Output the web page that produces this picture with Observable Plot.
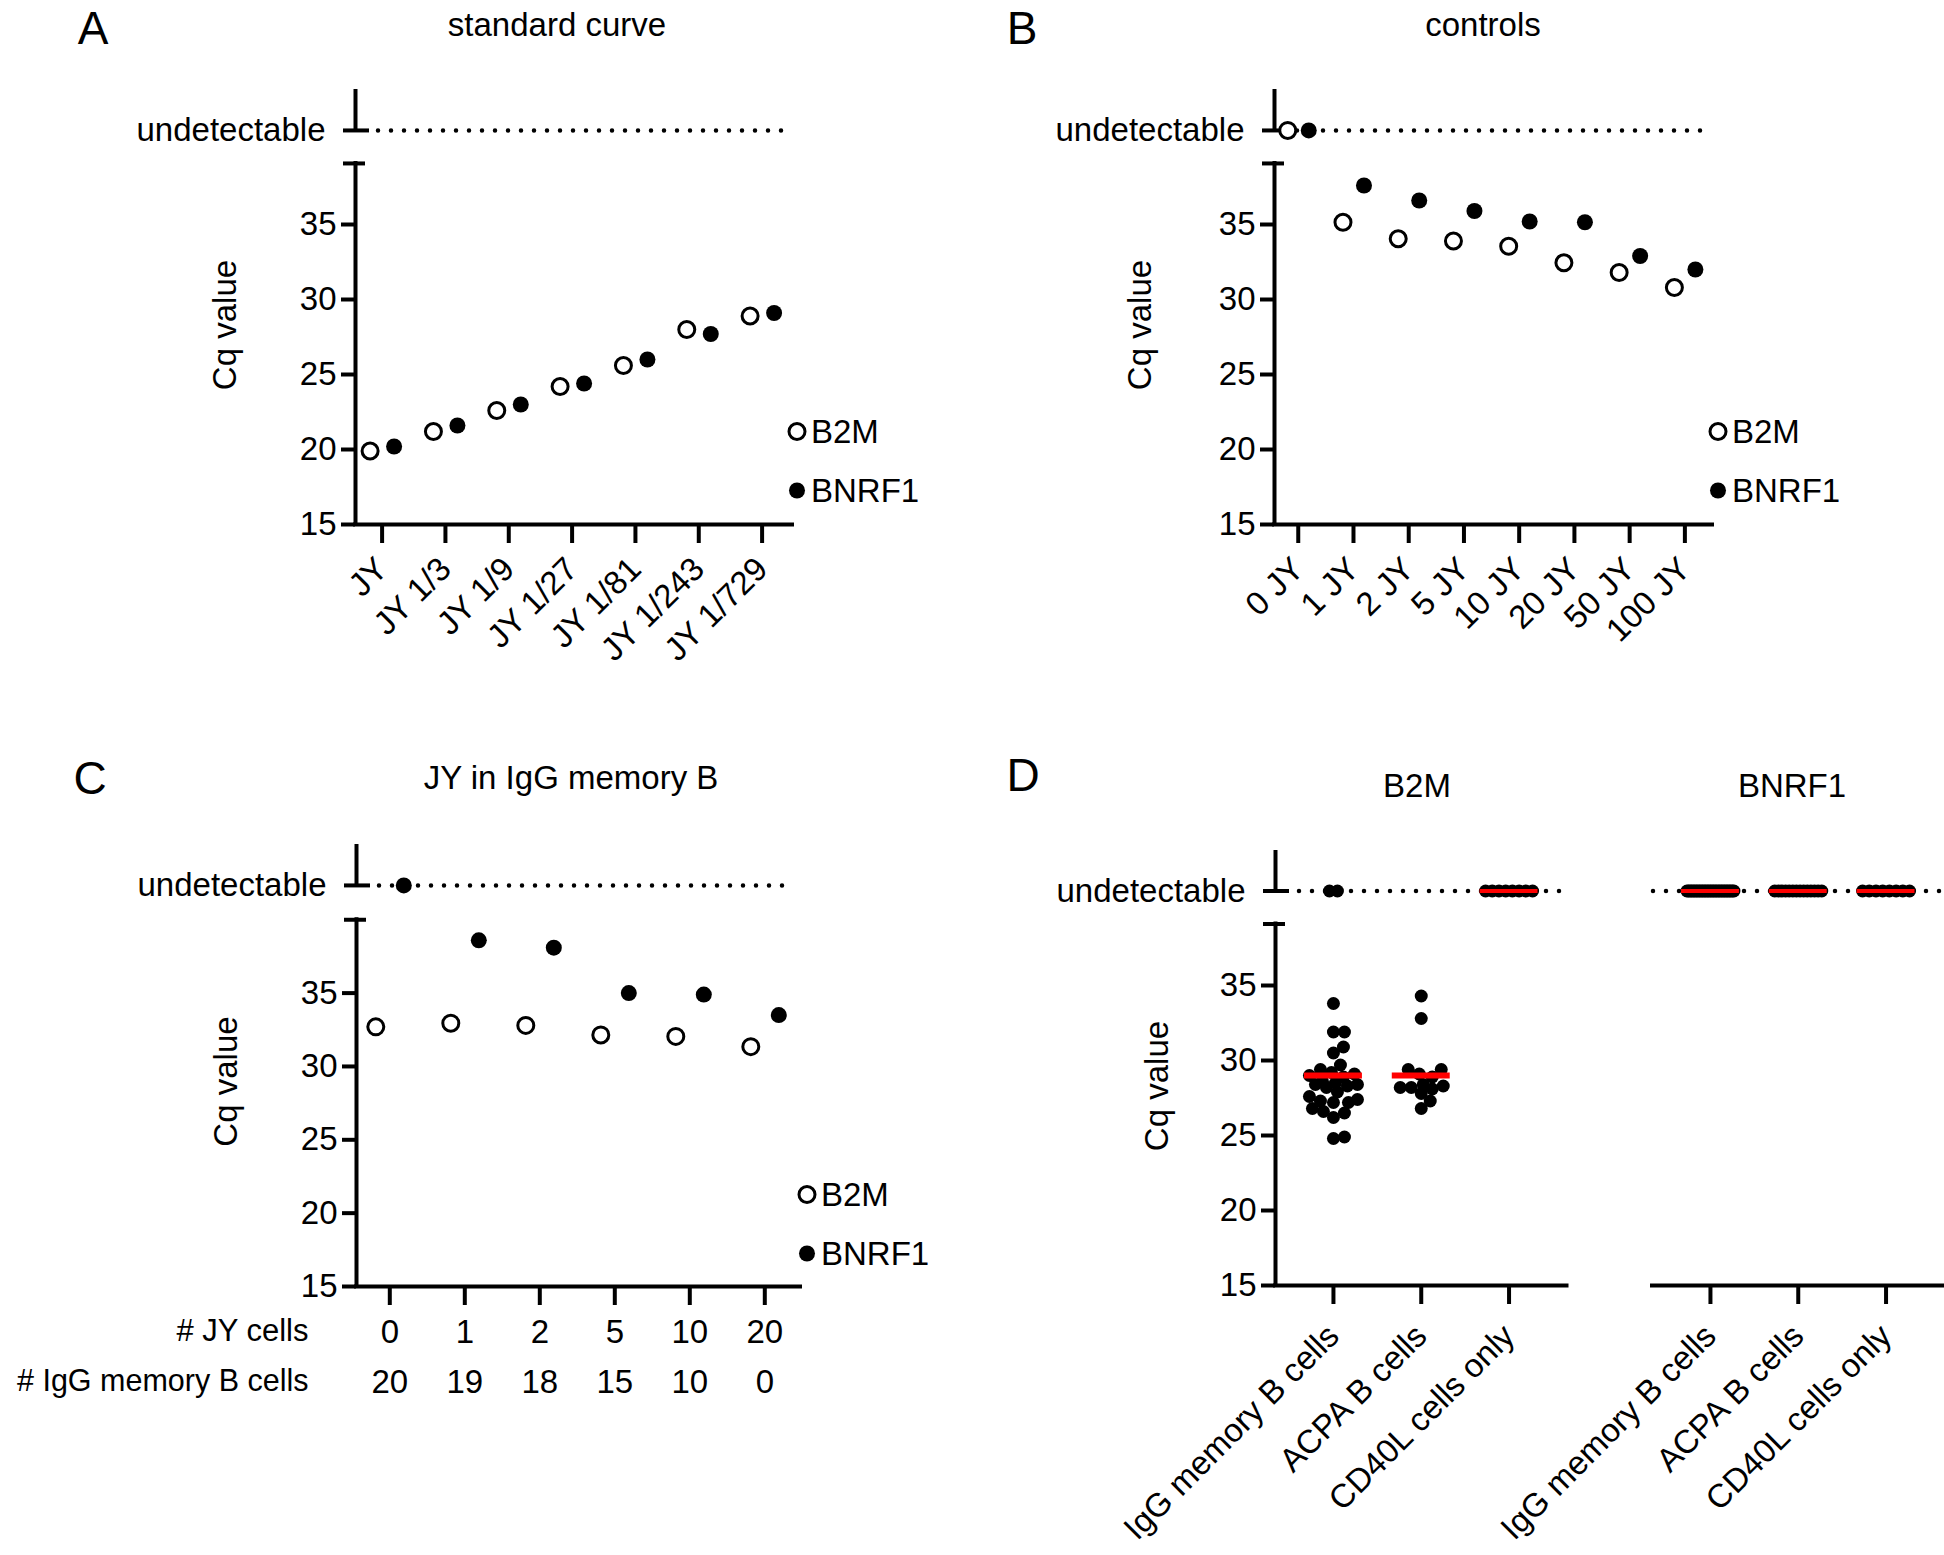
<!DOCTYPE html>
<html><head><meta charset="utf-8">
<script src="https://cdn.jsdelivr.net/npm/d3@7"></script>
<script src="https://cdn.jsdelivr.net/npm/@observablehq/plot@0.6"></script>
<style>
body{margin:0;background:#fff;}
#fig{position:relative;width:1944px;height:1555px;overflow:hidden;background:#fff;font-family:"Liberation Sans",Arial,Helvetica,sans-serif;color:#000;}
.t{position:absolute;transform:translate(-50%,-50%);font-size:33px;white-space:nowrap;line-height:1.15;}
.letter{font-size:46px;}
.leg{position:absolute;display:flex;align-items:center;font-size:33px;line-height:1;transform:translateY(-50%);white-space:nowrap;}
.leg svg{margin-right:4px;}
</style></head><body><div id="fig"></div>
<script>
const FONT = '"Liberation Sans", Arial, Helvetica, sans-serif';
const FS = 33;

// ---------- Panel A: standard curve ----------
const aLabels = ["JY", "JY 1/3", "JY 1/9", "JY 1/27", "JY 1/81", "JY 1/243", "JY 1/729"];
const aB2M   = [19.9, 21.2, 22.6, 24.2, 25.6, 28.0, 28.9];
const aBNRF1 = [20.2, 21.6, 23.0, 24.4, 26.0, 27.7, 29.1];

// ---------- Panel B: controls (null = undetectable) ----------
const bLabels = ["0 JY", "1 JY", "2 JY", "5 JY", "10 JY", "20 JY", "50 JY", "100 JY"];
const bB2M   = [null, 35.15, 34.05, 33.9, 33.55, 32.45, 31.8, 30.8];
const bBNRF1 = [null, 37.6, 36.6, 35.9, 35.2, 35.15, 32.9, 32.0];

// ---------- Panel C: JY in IgG memory B ----------
const cJYcells  = ["0", "1", "2", "5", "10", "20"];
const cIgGcells = ["20", "19", "18", "15", "10", "0"];
const cB2M   = [32.7, 32.95, 32.8, 32.15, 32.05, 31.35];
const cBNRF1 = [null, 38.6, 38.1, 35.0, 34.9, 33.5];

// ---------- Panel D ----------
const dGroups = ["IgG memory B cells", "ACPA B cells", "CD40L cells only"];
const dB2M_IgG = [33.8, 31.9, 31.9, 30.9, 30.5, 29.7, 29.4, 29.2, 29.1, 29.0, 28.9, 28.6, 28.5, 28.4, 28.4,
                  28.3, 28.2, 27.9, 27.6, 27.4, 27.3, 27.2, 27.2, 26.8, 26.6, 26.5, 26.2, 24.9, 24.8, null, null];
const dB2M_ACPA = [34.3, 32.8, 29.4, 29.4, 29.1, 28.9, 28.4, 28.3, 28.2, 28.2, 28.1, 27.8, 27.3, 26.8];
const dB2M_CD40L = [null, null, null, null, null, null, null, null];
const dBNRF1_IgG = [null, null, null, null, null, null, null, null, null, null, null, null, null, null, null, null,
                    null, null, null, null, null, null, null, null, null, null, null, null, null, null, null];
const dBNRF1_ACPA = [null, null, null, null, null, null, null, null, null, null, null, null, null, null];
const dBNRF1_CD40L = [null, null, null, null, null, null, null, null];
const dMedianB2M = [29.0, 29.0, null];
const dMedianBNRF1 = [null, null, null];

const fig = document.getElementById("fig");
function place(el, left, top) {
  el.style.position = "absolute"; el.style.left = left + "px"; el.style.top = top + "px";
  fig.appendChild(el);
}
function text(str, cx, cy, cls) {
  const d = document.createElement("div");
  d.className = "t " + (cls || ""); d.textContent = str;
  d.style.left = cx + "px"; d.style.top = cy + "px";
  fig.appendChild(d);
}
function legend(cx, cy, label, open) {
  const d = document.createElement("div");
  d.className = "leg";
  d.innerHTML = `<svg width="20" height="20"><circle cx="10" cy="10" r="8" fill="${open ? "white" : "black"}" stroke="black" stroke-width="${open ? 3 : 0}"/></svg><span>${label}</span>`;
  d.style.left = (cx - 10) + "px"; d.style.top = cy + "px";
  fig.appendChild(d);
}

const style = {background: "transparent", overflow: "visible", fontFamily: FONT, fontSize: FS + "px", color: "black"};

function brokenY({x0, lowTop, undet, yTop, W}) {
  return [
    Plot.ruleX([x0], {x: d => d, y1: () => 15, y2: () => lowTop, strokeWidth: 4, strokeLinecap: "square"}),
    Plot.ruleX([x0], {x: d => d, y1: () => undet, y2: () => yTop, strokeWidth: 4}),
    Plot.ruleY([lowTop], {y: d => d, dx: -12, insetRight: W - 22, strokeWidth: 4}),
    Plot.ruleY([undet], {y: d => d, insetRight: W - 14, strokeWidth: 4}),
    Plot.axisY({ticks: [15, 20, 25, 30, 35], tickSize: 14, tickPadding: 5, strokeWidth: 4, label: null, fontSize: FS}),
    Plot.axisY({ticks: [undet], tickFormat: () => "undetectable", tickSize: 12, tickPadding: 18, strokeWidth: 4, label: null, fontSize: FS})
  ];
}
function dotted(undet, insetLeft, insetRight) {
  return Plot.ruleY([undet], {y: d => d, insetLeft, insetRight, strokeWidth: 4.5, strokeDasharray: "0,13", strokeLinecap: "round"});
}
function pairDots(b2m, bnrf1, undet, off) {
  const open = b2m.map((v, i) => ({i, v: v === null ? undet : v}));
  const fill = bnrf1.map((v, i) => ({i, v: v === null ? undet : v}));
  return [
    Plot.dot(open, {x: "i", y: "v", r: 8, fill: "white", stroke: "black", strokeWidth: 3, dx: -off}),
    Plot.dot(fill, {x: "i", y: "v", r: 8, fill: "black", dx: off})
  ];
}
function cqLabel(dx, dy) {
  return Plot.text(["Cq value"], {text: d => d, frameAnchor: "left", textAnchor: "middle", lineAnchor: "middle", rotate: -90, dx, dy, fontSize: FS});
}
function rotatedX(labels) {
  return Plot.axisX({ticks: labels.map((_, i) => i), tickFormat: i => labels[i], tickSize: 19, tickPadding: 20, tickRotate: -45, strokeWidth: 4, label: null, fontSize: FS});
}

// ---------- Panel A ----------
{
  const W = 437, undet = 41.27, lowTop = 39.07, yTop = 44, xd = [-0.42, 6.48];
  const p = Plot.plot({
    width: 972, height: 700, marginLeft: 355, marginRight: 180, marginTop: 89, marginBottom: 176,
    x: {type: "linear", domain: xd, axis: null}, y: {type: "linear", domain: [15, yTop], axis: null},
    style,
    marks: [
      ...brokenY({x0: xd[0], lowTop, undet, yTop, W}),
      dotted(undet, 23, 5),
      Plot.ruleY([15], {y: d => d, strokeWidth: 4, strokeLinecap: "square"}),
      rotatedX(aLabels),
      cqLabel(-130, 18),
      ...pairDots(aB2M, aBNRF1, undet, 12)
    ]
  });
  place(p, 0, 0);
  legend(797, 431, "B2M", true);
  legend(797, 490, "BNRF1", false);
  text("A", 93, 28, "letter");
  text("standard curve", 557, 25);
}

// ---------- Panel B ----------
{
  const W = 438, undet = 41.27, lowTop = 39.07, yTop = 44, xd = [-0.43, 7.5];
  const p = Plot.plot({
    width: 972, height: 700, marginLeft: 302, marginRight: 232, marginTop: 89, marginBottom: 176,
    x: {type: "linear", domain: xd, axis: null}, y: {type: "linear", domain: [15, yTop], axis: null},
    style,
    marks: [
      ...brokenY({x0: xd[0], lowTop, undet, yTop, W}),
      dotted(undet, 23, 5),
      Plot.ruleY([15], {y: d => d, strokeWidth: 4, strokeLinecap: "square"}),
      rotatedX(bLabels),
      cqLabel(-134, 18),
      ...pairDots(bB2M, bBNRF1, undet, 10.5)
    ]
  });
  place(p, 972, 0);
  legend(1718, 431, "B2M", true);
  legend(1718, 490, "BNRF1", false);
  text("B", 1022, 28, "letter");
  text("controls", 1483, 25);
}

// ---------- Panel C ----------
{
  const W = 444, undet = 42.34, lowTop = 40.0, yTop = 45.13, xd = [-0.444, 5.476];
  const p = Plot.plot({
    width: 972, height: 795, marginLeft: 356, marginRight: 172, marginTop: 84, marginBottom: 269,
    x: {type: "linear", domain: xd, axis: null}, y: {type: "linear", domain: [15, yTop], axis: null},
    style,
    marks: [
      ...brokenY({x0: xd[0], lowTop, undet, yTop, W}),
      dotted(undet, 23, 5),
      Plot.ruleY([15], {y: d => d, strokeWidth: 4, strokeLinecap: "square"}),
      Plot.axisX({ticks: cJYcells.map((_, i) => i), tickFormat: i => cJYcells[i], tickSize: 19, tickPadding: 14, strokeWidth: 4, label: null, fontSize: FS}),
      Plot.axisX({ticks: cIgGcells.map((_, i) => i), tickFormat: i => cIgGcells[i], tickSize: 0, tickPadding: 83, strokeWidth: 0, label: null, fontSize: FS}),
      Plot.text(["# JY cells"], {text: d => d, frameAnchor: "bottom-left", textAnchor: "end", lineAnchor: "middle", dx: -48, dy: 45, fontSize: 31}),
      Plot.text(["# IgG memory B cells"], {text: d => d, frameAnchor: "bottom-left", textAnchor: "end", lineAnchor: "middle", dx: -48, dy: 95, fontSize: 30.5}),
      cqLabel(-130, 16),
      ...pairDots(cB2M, cBNRF1, undet, 14)
    ]
  });
  place(p, 0, 760);
  legend(807, 1194, "B2M", true);
  legend(807, 1253, "BNRF1", false);
  text("C", 90, 778, "letter");
  text("JY in IgG memory B", 571, 778);
}

// ---------- Panel D ----------
const PXX = 87.8, PXY = 15;
function swarmOffsets(values) {
  const off = values.map(() => 0);
  const nulls = [];
  values.forEach((v, i) => { if (v === null) nulls.push(i); });
  const n = nulls.length;
  if (n > 1) {
    const sp = Math.min(8, 47 / (n - 1));
    nulls.forEach((idx, j) => { off[idx] = (j - (n - 1) / 2) * sp; });
  }
  const order = values.map((v, i) => i).filter(i => values[i] !== null).sort((a, b) => values[a] - values[b]);
  const placed = [];
  for (const i of order) {
    const y = values[i] * PXY;
    let chosen = null, bestD = -1, bestC = 0;
    for (let k = 0; k <= 48; k++) {
      const c = (k % 2 === 1 ? 1 : -1) * Math.ceil(k / 2);
      let minD = Infinity;
      for (const q of placed) { const dd = Math.hypot(q.x - c, q.y - y); if (dd < minD) minD = dd; }
      if (minD >= 11) { chosen = c; break; }
      if (minD > bestD) { bestD = minD; bestC = c; }
    }
    if (chosen === null) chosen = bestC;
    off[i] = chosen; placed.push({x: chosen, y});
  }
  return off;
}
function dPoints(sets, undet) {
  return sets.flatMap((vals, g) => {
    const off = swarmOffsets(vals);
    return vals.map((v, j) => ({x: g + off[j] / PXX, y: v === null ? undet : v}));
  });
}
function dPanel(sets, medians, undet, lowTop, yTop, withAxis, W) {
  const xd = [-0.66, 2.66];
  const med = medians.map((m, g) => ({g, y: m === null ? undet : m, und: m === null}));
  const marks = [];
  if (withAxis) {
    marks.push(...brokenY({x0: xd[0], lowTop, undet, yTop, W}));
    marks.push(dotted(undet, 24, 5));
    marks.push(cqLabel(-118, 18));
  } else {
    marks.push(dotted(undet, 1, 0));
  }
  marks.push(
    Plot.ruleY([15], {y: d => d, strokeWidth: 4, strokeLinecap: "square"}),
    Plot.axisX({ticks: dGroups.map((_, i) => i), tickFormat: i => dGroups[i], tickSize: 19, tickPadding: 26, tickRotate: -45, strokeWidth: 4, label: null, fontSize: FS}),
    Plot.dot(dPoints(sets, undet), {x: "x", y: "y", r: 6.5, fill: "black"}),
    Plot.ruleY(med.filter(d => !d.und), {y: "y", x1: d => d.g - 0.33, x2: d => d.g + 0.33, stroke: "#ff0000", strokeWidth: 6}),
    Plot.ruleY(med.filter(d => d.und), {y: "y", x1: d => d.g - 0.33, x2: d => d.g + 0.33, stroke: "#ff0000", strokeWidth: 4})
  );
  return marks;
}
{
  const undet = 41.3, lowTop = 39.1, yTop = 44;
  const left = Plot.plot({
    width: 600, height: 795, marginLeft: 303, marginRight: 5.5, marginTop: 90, marginBottom: 270,
    x: {type: "linear", domain: [-0.66, 2.66], axis: null}, y: {type: "linear", domain: [15, yTop], axis: null},
    style,
    marks: dPanel([dB2M_IgG, dB2M_ACPA, dB2M_CD40L], dMedianB2M, undet, lowTop, yTop, true, 291.5)
  });
  const right = Plot.plot({
    width: 494, height: 795, marginLeft: 202, marginRight: 0.5, marginTop: 90, marginBottom: 270,
    x: {type: "linear", domain: [-0.66, 2.66], axis: null}, y: {type: "linear", domain: [15, yTop], axis: null},
    style,
    marks: dPanel([dBNRF1_IgG, dBNRF1_ACPA, dBNRF1_CD40L], dMedianBNRF1, undet, lowTop, yTop, false, 291.5)
  });
  place(left, 972, 760);
  place(right, 1450, 760);
  text("D", 1023, 775, "letter");
  text("B2M", 1417, 786);
  text("BNRF1", 1792, 786);
}
</script></body></html>
